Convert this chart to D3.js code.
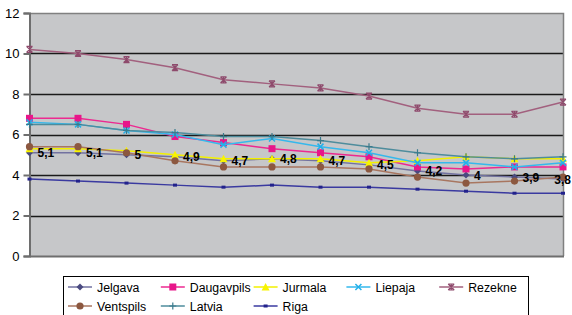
<!DOCTYPE html>
<html>
<head>
<meta charset="utf-8">
<style>
  body { margin: 0; background: #fff; font-family: Arial, "Liberation Sans", sans-serif; }
  .tick text { font-size: 13px; fill: #000; }
  .lbl { font-size: 12px; font-weight: bold; fill: #000; }
  .leg { font-size: 12.3px; fill: #000; }
</style>
</head>
<body>
<svg id="chart" width="572" height="315"></svg>
<script src="https://cdn.jsdelivr.net/npm/d3@7/dist/d3.min.js"></script>
<script>
var periods = ["1", "2", "3", "4", "5", "6", "7", "8", "9", "10", "11", "12"];

var jelgava    = [5.1, 5.1, 5.0, 4.9, 4.7, 4.8, 4.7, 4.5, 4.2, 4.0, 3.9, 3.8];
var daugavpils = [6.8, 6.8, 6.5, 5.9, 5.6, 5.3, 5.1, 4.9, 4.4, 4.3, 4.4, 4.4];
var jurmala    = [5.3, 5.3, 5.2, 5.0, 4.8, 4.8, 4.8, 4.6, 4.7, 4.9, 4.8, 4.8];
var liepaja    = [6.6, 6.5, 6.2, 6.0, 5.5, 5.8, 5.4, 5.1, 4.6, 4.6, 4.4, 4.6];
var rezekne    = [10.2, 10.0, 9.7, 9.3, 8.7, 8.5, 8.3, 7.9, 7.3, 7.0, 7.0, 7.6];
var ventspils  = [5.4, 5.4, 5.1, 4.7, 4.4, 4.4, 4.4, 4.3, 3.9, 3.6, 3.7, 3.9];
var latvia     = [6.5, 6.5, 6.2, 6.1, 5.9, 5.9, 5.7, 5.4, 5.1, 4.9, 4.8, 4.9];
var riga       = [3.8, 3.7, 3.6, 3.5, 3.4, 3.5, 3.4, 3.4, 3.3, 3.2, 3.1, 3.1];

var yTicks = [0, 2, 4, 6, 8, 10, 12];

var series = [
  { name: "Jelgava",    values: jelgava,    line: "#7272a0", fill: "#4a4a80", marker: "diamond" },
  { name: "Daugavpils", values: daugavpils, line: "#ec2a90", fill: "#e8168a", marker: "square" },
  { name: "Jurmala",    values: jurmala,    line: "#f2f000", fill: "#f8f400", marker: "triangle" },
  { name: "Liepaja",    values: liepaja,    line: "#35b8ec", fill: "#22b0ea", marker: "x" },
  { name: "Rezekne",    values: rezekne,    line: "#a2607e", fill: "#8e4a6c", marker: "star" },
  { name: "Ventspils",  values: ventspils,  line: "#a87660", fill: "#8c5840", marker: "circle" },
  { name: "Latvia",     values: latvia,     line: "#4e8c9c", fill: "#3a7a8c", marker: "plus" },
  { name: "Riga",       values: riga,       line: "#3a3aa0", fill: "#22228c", marker: "smallsquare" }
];

var svg = d3.select("#chart");
var plotL = 29.5, plotR = 563, plotT = 13, plotB = 256;

var x = d3.scalePoint().domain(periods).range([plotL, plotR]);
var y = d3.scaleLinear().domain([0, 12]).range([plotB, plotT]);

// plot background
svg.append("rect")
  .attr("x", plotL).attr("y", plotT)
  .attr("width", plotR - plotL).attr("height", plotB - plotT)
  .attr("fill", "#c6c7c9");

// gridlines
svg.append("g").selectAll("line")
  .data(yTicks.filter(function(d) { return d > 0 && d < 12; }))
  .enter().append("line")
  .attr("x1", plotL).attr("x2", plotR)
  .attr("y1", function(d) { return Math.round(y(d)) + 0.5; })
  .attr("y2", function(d) { return Math.round(y(d)) + 0.5; })
  .attr("stroke", "#1a1a1a").attr("stroke-width", 1.5);

// frame top/right
svg.append("path")
  .attr("d", "M" + plotL + "," + (plotT + 0.5) + "H" + (plotR + 0.5) + "V" + plotB)
  .attr("fill", "none").attr("stroke", "#808080").attr("stroke-width", 1.5);

// y axis
var yAxis = svg.append("g")
  .attr("transform", "translate(" + plotL + ",0)")
  .call(d3.axisLeft(y).tickValues(yTicks).tickSize(6).tickPadding(4).tickFormat(d3.format("d")));
yAxis.selectAll("line, path").attr("stroke", "#6e6e6e").attr("stroke-width", 2);
yAxis.selectAll("text").style("font-family", "Arial, 'Liberation Sans', sans-serif");

// x axis line
svg.append("line")
  .attr("x1", plotL).attr("x2", plotR + 1)
  .attr("y1", plotB + 0.5).attr("y2", plotB + 0.5)
  .attr("stroke", "#6e6e6e").attr("stroke-width", 2);

function drawMarker(g, type, color) {
  if (type === "diamond") {
    g.append("path").attr("d", "M0,-3.5L3.5,0L0,3.5L-3.5,0Z").attr("fill", color);
  } else if (type === "square") {
    g.append("rect").attr("x", -3.5).attr("y", -3.5).attr("width", 7).attr("height", 7).attr("fill", color);
  } else if (type === "smallsquare") {
    g.append("rect").attr("x", -2).attr("y", -1.5).attr("width", 4).attr("height", 3).attr("fill", color);
  } else if (type === "triangle") {
    g.append("path").attr("d", "M0,-4L4,3.5L-4,3.5Z").attr("fill", color);
  } else if (type === "circle") {
    g.append("circle").attr("r", 3.6).attr("fill", color);
  } else if (type === "x") {
    g.append("path").attr("d", "M-3,-3L3,3M-3,3L3,-3").attr("stroke", color).attr("stroke-width", 1.5);
  } else if (type === "plus") {
    g.append("path").attr("d", "M-3.5,0H3.5M0,-3.5V3.5").attr("stroke", color).attr("stroke-width", 1.2);
  } else if (type === "star") {
    g.append("path").attr("d", "M-3,-3L3,3M-3,3L3,-3M0,-3.5V3.5M-3,-3H3M-3,3H3").attr("stroke", color).attr("stroke-width", 1.2);
  }
}

var line = d3.line()
  .x(function(d, i) { return x(periods[i]); })
  .y(function(d) { return y(d); });

series.forEach(function(s) {
  var g = svg.append("g");
  g.append("path")
    .attr("d", line(s.values))
    .attr("fill", "none")
    .attr("stroke", s.line)
    .attr("stroke-width", 1.5);
  g.selectAll("g.m")
    .data(s.values)
    .enter().append("g")
    .attr("class", "m")
    .attr("transform", function(d, i) { return "translate(" + x(periods[i]) + "," + y(d) + ")"; })
    .each(function() { drawMarker(d3.select(this), s.marker, s.fill); });
});

// data labels for Jelgava (kept inside the chart's right edge)
svg.append("g").selectAll("text")
  .data(jelgava)
  .enter().append("text")
  .attr("class", "lbl")
  .attr("y", function(d) { return y(d) + 4.5; })
  .text(function(d) { return String(d).replace(".", ","); })
  .attr("x", function(d, i) {
    var w = this.getComputedTextLength();
    return Math.min(x(periods[i]) + 8, 571 - w);
  });

// legend
svg.append("rect")
  .attr("x", 63.5).attr("y", 276.5)
  .attr("width", 465).attr("height", 45)
  .attr("fill", "#fff").attr("stroke", "#000").attr("stroke-width", 1);

var legend = svg.append("g").selectAll("g")
  .data(series)
  .enter().append("g")
  .attr("transform", function(d, i) {
    var col = i % 5, row = Math.floor(i / 5);
    return "translate(" + (68 + col * 92.8) + "," + (287 + row * 19) + ")";
  });

legend.append("line")
  .attr("x1", 0).attr("x2", 24)
  .attr("stroke", function(d) { return d.line; })
  .attr("stroke-width", 1.5);
legend.append("g")
  .attr("transform", "translate(12,0)")
  .each(function(d) { drawMarker(d3.select(this), d.marker, d.fill); });
legend.append("text")
  .attr("class", "leg")
  .attr("x", 29).attr("y", 4.5)
  .text(function(d) { return d.name; });
</script>
</body>
</html>
